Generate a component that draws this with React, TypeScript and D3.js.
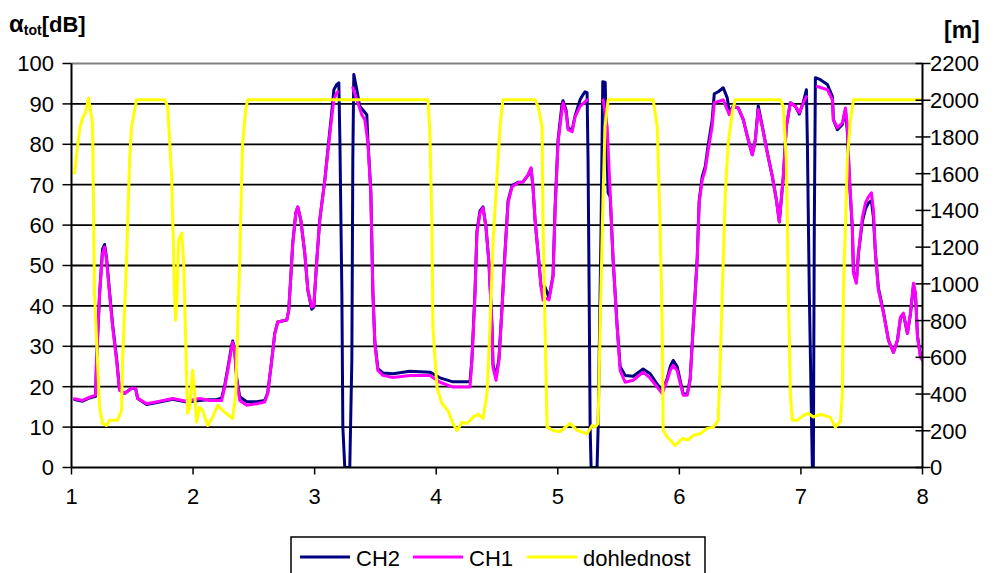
import React from "react";
import * as d3 from "d3";

// Attenuation (left axis, dB) and visibility distance (right axis, m) along the route
const xTicks = [1, 2, 3, 4, 5, 6, 7, 8];
const leftTicks = [0, 10, 20, 30, 40, 50, 60, 70, 80, 90, 100];
const rightTicks = [0, 200, 400, 600, 800, 1000, 1200, 1400, 1600, 1800, 2000, 2200];
const seriesNames = ["CH2", "CH1", "dohlednost"];

// CH1 – null marks missing samples
const ch1: [number, number | null][] = [
  [1.025, 17.0], [1.091, 16.6], [1.148, 17.4], [1.198, 17.9], [1.206, 26.5], [1.231, 43], [1.255, 53],
  [1.272, 54.6], [1.288, 51.4], [1.313, 43], [1.338, 34.8], [1.371, 26.5], [1.395, 19.1], [1.436, 18.3],
  [1.494, 19.6], [1.527, 19.6], [1.544, 17.1], [1.618, 15.8], [1.725, 16.4], [1.832, 17.1], [1.947, 16.4],
  [2.054, 17.1], [2.136, 16.6], [2.194, 16.6], [2.235, 16.6], [2.26, 19.9], [2.285, 24], [2.318, 29.8],
  [2.326, 31], [2.342, 29], [2.359, 21.6], [2.384, 16.6], [2.441, 15.4], [2.524, 15.8], [2.589, 16.2],
  [2.614, 18.3], [2.647, 26.5], [2.672, 33.2], [2.696, 36], [2.771, 36.5], [2.787, 39], [2.804, 47.2],
  [2.82, 55.5], [2.845, 63], [2.861, 64.5], [2.886, 61.3], [2.919, 53], [2.944, 43.9], [2.976, 39.7],
  [2.993, 40], [3.018, 51.4], [3.042, 61.3], [3.084, 71.2], [3.108, 77.9], [3.141, 86.8], [3.158, 91],
  [3.182, 92.8], [3.191, 93], [3.25, null],
  [3.314, 94], [3.347, 91], [3.388, 87.3], [3.413, 86], [3.438, 80.4], [3.462, 68], [3.479, 43],
  [3.495, 30.8], [3.52, 24], [3.561, 22.8], [3.644, 22.3], [3.783, 22.8], [3.948, 22.8], [4.031, 21.1],
  [4.138, 19.9], [4.278, 19.9], [4.294, 26.5], [4.319, 43], [4.335, 58], [4.36, 63], [4.385, 64.3],
  [4.409, 59.6], [4.434, 50.6], [4.459, 34.8], [4.467, 24.8], [4.492, 21.6], [4.516, 26.5], [4.541, 39],
  [4.566, 53], [4.591, 65.5], [4.624, 69.5], [4.673, 70.5], [4.714, 70.7], [4.755, 72.5], [4.78, 74.2],
  [4.796, 69.5], [4.813, 61.3], [4.838, 53], [4.862, 44.7], [4.879, 41.4], [4.895, 42], [4.928, 41.5],
  [4.961, 47.2], [4.978, 63.8], [5.002, 80.4], [5.035, 88.6], [5.043, 90.3], [5.068, 87.8], [5.085, 83.6],
  [5.118, 83.1], [5.142, 86.8], [5.183, 89.4], [5.241, 91], [5.3, null],
  [5.373, 91], [5.406, 84.4], [5.431, 68], [5.455, 51.4], [5.488, 34.8], [5.513, 24], [5.554, 21.1],
  [5.62, 21.6], [5.702, 23.6], [5.76, 22.1], [5.818, 19.9], [5.859, 18.3], [5.9, 21.6], [5.925, 24],
  [5.949, 25.3], [5.982, 24], [6.007, 20.8], [6.032, 17.9], [6.065, 17.9], [6.089, 21.6], [6.114, 34.8],
  [6.147, 51.4], [6.163, 65.5], [6.188, 71.2], [6.213, 73.7], [6.238, 78.7], [6.27, 84.4], [6.287, 90.3],
  [6.32, 90.6], [6.361, 91], [6.394, 88.6], [6.41, 87.3], [6.443, 89.4], [6.484, 89], [6.526, 86.1],
  [6.559, 81.9], [6.6, 77.4], [6.625, 81.1], [6.649, 88.6], [6.682, 84.4], [6.723, 77.9], [6.765, 72],
  [6.798, 66.3], [6.822, 60.8], [6.855, 72], [6.88, 84.4], [6.913, 90.3], [6.954, 89.4], [6.987, 87.8],
  [7.02, 90.3], [7.045, 91.8], [7.09, null],
  [7.135, 94.3], [7.218, 93.5], [7.259, 91], [7.267, 86.1], [7.3, 84.1], [7.341, 85.3], [7.366, 89],
  [7.382, 84.4], [7.399, 72], [7.423, 59.6], [7.432, 48.1], [7.456, 45.6], [7.473, 53], [7.506, 62],
  [7.531, 65.5], [7.555, 67], [7.58, 68], [7.596, 63.8], [7.613, 53], [7.637, 43.9], [7.679, 38.2],
  [7.72, 31.5], [7.761, 28.5], [7.794, 31.5], [7.819, 37.2], [7.843, 38.2], [7.876, 33.2], [7.901, 38.2],
  [7.926, 45.6], [7.942, 43], [7.959, 32.3], [7.983, 27.3], [8.0, 26.5],
];

// CH2
const ch2: [number, number][] = [
  [1.025, 16.8], [1.091, 16.4], [1.148, 17.2], [1.198, 17.6], [1.206, 26.5], [1.231, 43], [1.255, 54],
  [1.272, 55.2], [1.288, 52], [1.313, 43.5], [1.338, 35.5], [1.371, 27], [1.395, 19.3], [1.436, 18.3],
  [1.494, 19.6], [1.527, 19.6], [1.544, 17.1], [1.618, 15.6], [1.725, 16.2], [1.832, 16.9], [1.947, 16.2],
  [2.054, 16.6], [2.136, 16.8], [2.194, 16.8], [2.235, 17.2], [2.26, 20.3], [2.285, 24.5], [2.318, 30.3],
  [2.326, 31.3], [2.342, 29.5], [2.359, 22], [2.384, 17.5], [2.441, 16.3], [2.524, 16.3], [2.589, 16.6],
  [2.614, 18.5], [2.647, 26.5], [2.672, 33.2], [2.696, 36], [2.771, 36.5], [2.787, 39], [2.804, 47.2],
  [2.82, 55.5], [2.845, 63], [2.861, 64.5], [2.886, 61.3], [2.919, 53], [2.944, 43.9], [2.976, 39.2],
  [2.993, 39.7], [3.018, 51.4], [3.042, 61.3], [3.084, 71.2], [3.108, 78.5], [3.141, 88], [3.158, 93.5],
  [3.182, 94.8], [3.199, 95.2], [3.208, 80.4], [3.224, 43], [3.232, 10], [3.248, 0], [3.289, 0],
  [3.306, 26.5], [3.314, 76], [3.322, 97.3], [3.347, 93.5], [3.371, 89.4], [3.429, 87.3], [3.438, 81],
  [3.462, 68.5], [3.479, 43.5], [3.495, 31.2], [3.52, 24.5], [3.561, 23.4], [3.644, 23.2], [3.783, 23.8],
  [3.948, 23.6], [4.031, 22.2], [4.138, 21.2], [4.278, 21.2], [4.294, 27], [4.319, 43.5], [4.335, 58.5],
  [4.36, 63.5], [4.385, 64.5], [4.409, 59.6], [4.434, 50.6], [4.459, 34.8], [4.467, 25.5], [4.492, 22.5],
  [4.516, 27], [4.541, 39.5], [4.566, 53.5], [4.591, 66], [4.624, 69.8], [4.673, 70.6], [4.714, 70.7],
  [4.755, 72.3], [4.78, 74], [4.796, 69.5], [4.813, 61.3], [4.838, 53], [4.862, 45], [4.879, 44.7],
  [4.895, 44.7], [4.928, 42], [4.961, 47.5], [4.978, 64.5], [5.002, 81], [5.035, 90], [5.043, 90.8],
  [5.068, 88.5], [5.085, 84], [5.118, 83.5], [5.142, 87], [5.183, 91], [5.208, 92.3], [5.224, 93],
  [5.241, 92.8], [5.249, 76], [5.258, 43], [5.266, 10], [5.274, 0], [5.323, 0], [5.332, 10],
  [5.356, 59.6], [5.37, 95.5], [5.39, 95.3], [5.398, 84.4], [5.414, 68], [5.431, 67], [5.455, 51.4],
  [5.488, 35.2], [5.513, 25], [5.554, 22.8], [5.62, 22.6], [5.702, 24.4], [5.76, 23.2], [5.818, 20.6],
  [5.859, 19], [5.9, 22], [5.925, 25], [5.949, 26.5], [5.982, 25], [6.007, 21.5], [6.032, 18.2],
  [6.065, 18.2], [6.089, 22], [6.114, 35], [6.147, 52], [6.163, 66], [6.188, 72], [6.213, 74.5],
  [6.238, 80], [6.27, 86], [6.287, 92.5], [6.32, 93], [6.361, 94], [6.394, 91.5], [6.41, 88],
  [6.443, 89.4], [6.484, 89], [6.526, 86.1], [6.559, 82], [6.6, 77.4], [6.625, 81.1], [6.649, 89.5],
  [6.682, 84.5], [6.723, 78], [6.765, 72], [6.798, 66.3], [6.822, 60.8], [6.855, 72], [6.88, 84.4],
  [6.913, 90.3], [6.954, 89.4], [6.987, 87.5], [7.02, 90.5], [7.045, 93.5], [7.053, 80.4], [7.069, 43],
  [7.094, 0], [7.102, 0], [7.11, 59.6], [7.119, 96.5], [7.16, 96], [7.218, 94.8], [7.259, 91.8],
  [7.267, 86.1], [7.3, 83.6], [7.341, 84.9], [7.366, 88.6], [7.382, 83], [7.399, 71], [7.423, 59],
  [7.432, 48.5], [7.456, 46], [7.473, 53], [7.506, 61], [7.531, 64], [7.555, 65.5], [7.58, 66],
  [7.596, 62], [7.613, 53], [7.637, 44.5], [7.679, 38.5], [7.72, 31.5], [7.761, 28.5], [7.794, 31.5],
  [7.819, 37], [7.843, 38], [7.876, 33.2], [7.901, 38], [7.926, 45.2], [7.942, 43], [7.959, 32.5],
  [7.983, 27.8], [8.0, 27],
];

// dohlednost [m]
const dohlednost: [number, number][] = [
  [1.025, 1603], [1.066, 1840], [1.091, 1903], [1.115, 1932], [1.14, 2012], [1.173, 1877], [1.189, 950],
  [1.231, 329], [1.255, 240], [1.288, 229], [1.313, 257], [1.379, 257], [1.412, 311], [1.42, 584],
  [1.453, 1130], [1.478, 1676], [1.494, 1856], [1.535, 2003], [1.766, 2003], [1.791, 1965], [1.824, 1583],
  [1.848, 950], [1.856, 802], [1.865, 895], [1.881, 1239], [1.906, 1277], [1.922, 1130], [1.947, 491],
  [1.955, 295], [1.972, 328], [1.996, 530], [2.013, 404], [2.029, 246], [2.054, 328], [2.079, 311],
  [2.12, 229], [2.161, 273], [2.202, 338], [2.26, 300], [2.326, 267], [2.351, 404], [2.367, 765],
  [2.384, 1130], [2.4, 1583], [2.408, 1768], [2.433, 1949], [2.449, 2003], [3.932, 2003], [3.948, 1823],
  [3.965, 1312], [3.973, 766], [4.006, 437], [4.047, 349], [4.096, 311], [4.138, 240], [4.171, 202],
  [4.212, 246], [4.253, 240], [4.302, 273], [4.344, 290], [4.385, 267], [4.418, 404], [4.442, 766],
  [4.467, 1221], [4.5, 1583], [4.525, 1856], [4.549, 2003], [4.813, 2003], [4.838, 1965], [4.871, 1856],
  [4.879, 1312], [4.895, 766], [4.912, 220], [4.961, 202], [5.019, 195], [5.101, 240], [5.159, 202],
  [5.241, 184], [5.282, 229], [5.307, 220], [5.332, 240], [5.348, 766], [5.373, 1493], [5.389, 1856],
  [5.414, 2003], [5.785, 2003], [5.818, 1856], [5.842, 1312], [5.859, 766], [5.867, 202], [5.9, 166],
  [5.966, 120], [6.024, 158], [6.073, 150], [6.114, 175], [6.172, 185], [6.229, 213], [6.279, 220],
  [6.32, 257], [6.337, 584], [6.353, 950], [6.378, 1493], [6.402, 1768], [6.435, 1932], [6.46, 2003],
  [6.831, 2003], [6.855, 1965], [6.88, 1676], [6.897, 950], [6.913, 404], [6.929, 257], [6.971, 257],
  [7.02, 284], [7.061, 295], [7.102, 275], [7.16, 290], [7.242, 273], [7.283, 220], [7.325, 250],
  [7.341, 404], [7.349, 950], [7.366, 1312], [7.382, 1676], [7.407, 1894], [7.432, 2003], [8.0, 2003],
];

const W = 995;
const H = 573;
const plot = { left: 71.5, right: 922.5, top: 63.5, bottom: 467.5 };
const font = "'Liberation Sans', Arial, sans-serif";
const colors = { CH2: "#000080", CH1: "#FF00FF", dohlednost: "#FFFF00" };

export default function App() {
  const x = d3.scaleLinear().domain([1, 8]).range([plot.left, plot.right]);
  const yL = d3.scaleLinear().domain([0, 100]).range([plot.bottom, plot.top]);
  const yR = d3.scaleLinear().domain([0, 2200]).range([plot.bottom, plot.top]);

  const lineL = d3
    .line<[number, number | null]>()
    .defined((d) => d[1] !== null)
    .x((d) => x(d[0]))
    .y((d) => yL(d[1] as number));
  const lineR = d3
    .line<[number, number]>()
    .x((d) => x(d[0]))
    .y((d) => yR(d[1]));

  const fs = 22;
  const legendItems = [
    { name: seriesNames[0], color: colors.CH2, x0: 300 },
    { name: seriesNames[1], color: colors.CH1, x0: 413 },
    { name: seriesNames[2], color: colors.dohlednost, x0: 527 },
  ];

  return (
    <svg
      width={W}
      height={H}
      style={{ position: "absolute", left: 0, top: 0, background: "#fff" }}
      fontFamily={font}
    >
      <defs>
        <clipPath id="plotClip">
          <rect x={plot.left} y={plot.top - 4} width={plot.right - plot.left} height={plot.bottom - plot.top + 4} />
        </clipPath>
      </defs>

      {/* horizontal gridlines */}
      {leftTicks.slice(1, -1).map((t) => (
        <line key={t} x1={plot.left} x2={plot.right} y1={yL(t)} y2={yL(t)} stroke="#000" strokeWidth={1.8} />
      ))}
      <line x1={plot.left} x2={plot.right} y1={plot.top} y2={plot.top} stroke="#808080" strokeWidth={2} />

      {/* series */}
      <g clipPath="url(#plotClip)" fill="none" strokeLinejoin="round" strokeLinecap="round">
        <path d={lineL(ch2 as [number, number | null][]) || ""} stroke={colors.CH2} strokeWidth={3} />
        <path d={lineL(ch1) || ""} stroke={colors.CH1} strokeWidth={3} />
        <path d={lineR(dohlednost) || ""} stroke={colors.dohlednost} strokeWidth={3} />
      </g>

      {/* axes */}
      <line x1={plot.left} x2={plot.left} y1={plot.top} y2={plot.bottom} stroke="#000" strokeWidth={2} />
      <line x1={plot.right} x2={plot.right} y1={plot.top} y2={plot.bottom} stroke="#000" strokeWidth={2} />
      <line x1={plot.left} x2={plot.right} y1={plot.bottom} y2={plot.bottom} stroke="#000" strokeWidth={2} />

      {leftTicks.map((t) => (
        <g key={t}>
          <line x1={plot.left - 9} x2={plot.left} y1={yL(t)} y2={yL(t)} stroke="#000" strokeWidth={1.5} />
          <text x={54} y={yL(t)} dy="0.36em" textAnchor="end" fontSize={fs}>
            {t}
          </text>
        </g>
      ))}
      {rightTicks.map((t) => (
        <g key={t}>
          <line x1={plot.right - 7} x2={plot.right + 8} y1={yR(t)} y2={yR(t)} stroke="#000" strokeWidth={1.5} />
          <text x={930} y={yR(t)} dy="0.36em" textAnchor="start" fontSize={fs}>
            {t}
          </text>
        </g>
      ))}
      {xTicks.map((t) => (
        <g key={t}>
          <line x1={x(t)} x2={x(t)} y1={plot.bottom} y2={plot.bottom + 7} stroke="#000" strokeWidth={1.5} />
          <text x={x(t)} y={504} textAnchor="middle" fontSize={fs}>
            {t}
          </text>
        </g>
      ))}

      {/* axis titles */}
      <text x={9} y={32} fontWeight="bold" fontSize={24}>
        α<tspan fontSize={14} dy={3}>tot</tspan>
        <tspan dy={-3} fontSize={22}>[dB]</tspan>
      </text>
      <text x={944} y={38} fontWeight="bold" fontSize={23}>
        [m]
      </text>

      {/* legend */}
      <rect x={291} y={537} width={414} height={45} fill="#fff" stroke="#000" strokeWidth={1.5} />
      {legendItems.map((it) => (
        <g key={it.name}>
          <line x1={it.x0} x2={it.x0 + 50} y1={557} y2={557} stroke={it.color} strokeWidth={3} />
          <text x={it.x0 + 56} y={566} fontSize={fs}>
            {it.name}
          </text>
        </g>
      ))}
    </svg>
  );
}
